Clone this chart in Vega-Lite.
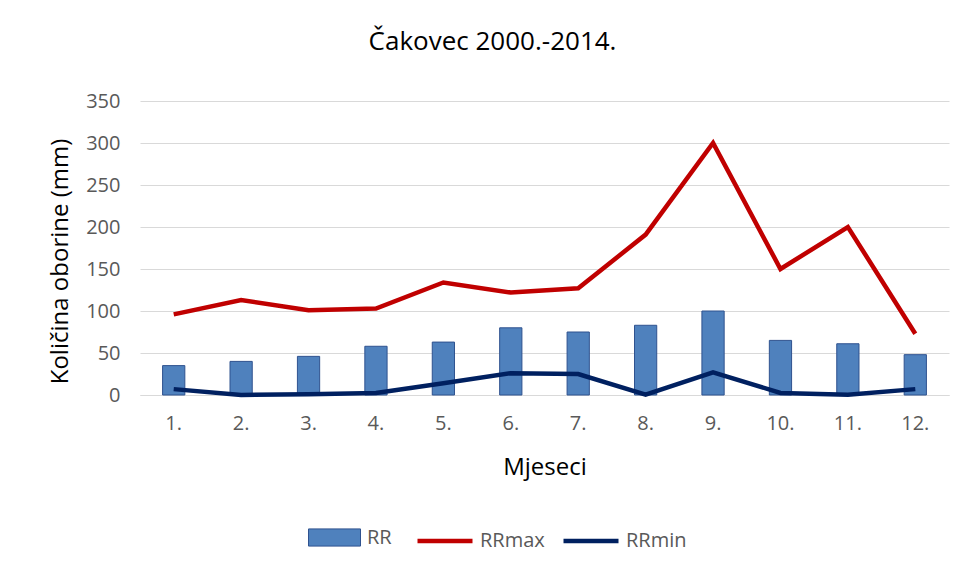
{
  "$schema": "https://vega.github.io/schema/vega-lite/v6.json",
  "width": 809,
  "height": 294,
  "autosize": {"type": "none"},
  "padding": {"left": 140, "top": 101, "right": 14, "bottom": 172},
  "background": "white",
  "title": {
    "text": "Čakovec 2000.-2014.",
    "font": "Open Sans",
    "fontSize": 26,
    "fontWeight": "normal",
    "color": "#000000",
    "anchor": "middle",
    "dx": -52,
    "offset": 36
  },
  "config": {
    "view": {"stroke": null},
    "font": "Open Sans",
    "axis": {
      "labelFont": "Open Sans",
      "labelFontSize": 20,
      "labelColor": "#595959",
      "titleFont": "Open Sans",
      "titleFontSize": 24,
      "titleFontWeight": "normal",
      "titleColor": "#000000",
      "ticks": false,
      "tickSize": 0
    },
    "legend": {
      "labelFont": "Open Sans",
      "labelFontSize": 20,
      "labelColor": "#595959"
    }
  },
  "data": {
    "values": [
      {"month": "1.", "RR": 35, "RRmax": 96, "RRmin": 7},
      {"month": "2.", "RR": 40, "RRmax": 113, "RRmin": 0},
      {"month": "3.", "RR": 46, "RRmax": 101, "RRmin": 1},
      {"month": "4.", "RR": 58, "RRmax": 103, "RRmin": 2.5},
      {"month": "5.", "RR": 63, "RRmax": 134, "RRmin": 14},
      {"month": "6.", "RR": 80, "RRmax": 122, "RRmin": 26},
      {"month": "7.", "RR": 75, "RRmax": 127, "RRmin": 25},
      {"month": "8.", "RR": 83, "RRmax": 191, "RRmin": 0.5},
      {"month": "9.", "RR": 100, "RRmax": 300, "RRmin": 27},
      {"month": "10.", "RR": 65, "RRmax": 150, "RRmin": 2.5},
      {"month": "11.", "RR": 61, "RRmax": 200, "RRmin": 0.3},
      {"month": "12.", "RR": 48, "RRmax": 73, "RRmin": 7}
    ]
  },
  "encoding": {
    "x": {
      "field": "month",
      "type": "nominal",
      "sort": null,
      "scale": {"paddingInner": 0.67, "paddingOuter": 0.335},
      "axis": {
        "title": "Mjeseci",
        "labelAngle": 0,
        "labelPadding": 18,
        "domain": true,
        "domainColor": "#D9D9D9",
        "grid": false,
        "titleY": 72,
        "titleBaseline": "middle"
      }
    }
  },
  "layer": [
    {
      "mark": {"type": "bar", "stroke": "#2F528F", "strokeWidth": 1},
      "encoding": {
        "y": {
          "field": "RR",
          "type": "quantitative",
          "scale": {"domain": [0, 350], "nice": false},
          "axis": {
            "title": "Količina oborine (mm)",
            "values": [0, 50, 100, 150, 200, 250, 300, 350],
            "grid": true,
            "gridColor": "#D9D9D9",
            "gridWidth": 1,
            "domain": false,
            "labelPadding": 20,
            "titleX": -80,
            "titleY": 160,
            "titleBaseline": "middle"
          }
        },
        "fill": {
          "datum": "RR",
          "scale": {"domain": ["RR"], "range": ["#4F81BD"]},
          "legend": {
            "title": null,
            "orient": "none",
            "legendX": 168,
            "legendY": 410,
            "direction": "horizontal",
            "symbolType": "M-1,-0.33H1V0.33H-1Z",
            "symbolSize": 2704,
            "symbolStrokeColor": "#2F528F",
            "symbolStrokeWidth": 1,
            "symbolOpacity": 1,
            "labelOffset": 6
          }
        }
      }
    },
    {
      "mark": {"type": "line", "strokeWidth": 4.5},
      "encoding": {
        "y": {"field": "RRmax", "type": "quantitative"},
        "stroke": {
          "datum": "RRmax",
          "scale": {"domain": ["RRmax", "RRmin"], "range": ["#C00000", "#002060"]},
          "legend": {
            "title": null,
            "orient": "none",
            "legendX": 275,
            "legendY": 410,
            "direction": "horizontal",
            "symbolType": "stroke",
            "symbolSize": 3025,
            "symbolStrokeWidth": 4.5,
            "labelOffset": 5,
            "columnPadding": 9
          }
        }
      }
    },
    {
      "mark": {"type": "line", "strokeWidth": 4.5},
      "encoding": {
        "y": {"field": "RRmin", "type": "quantitative"},
        "stroke": {"datum": "RRmin"}
      }
    }
  ]
}
